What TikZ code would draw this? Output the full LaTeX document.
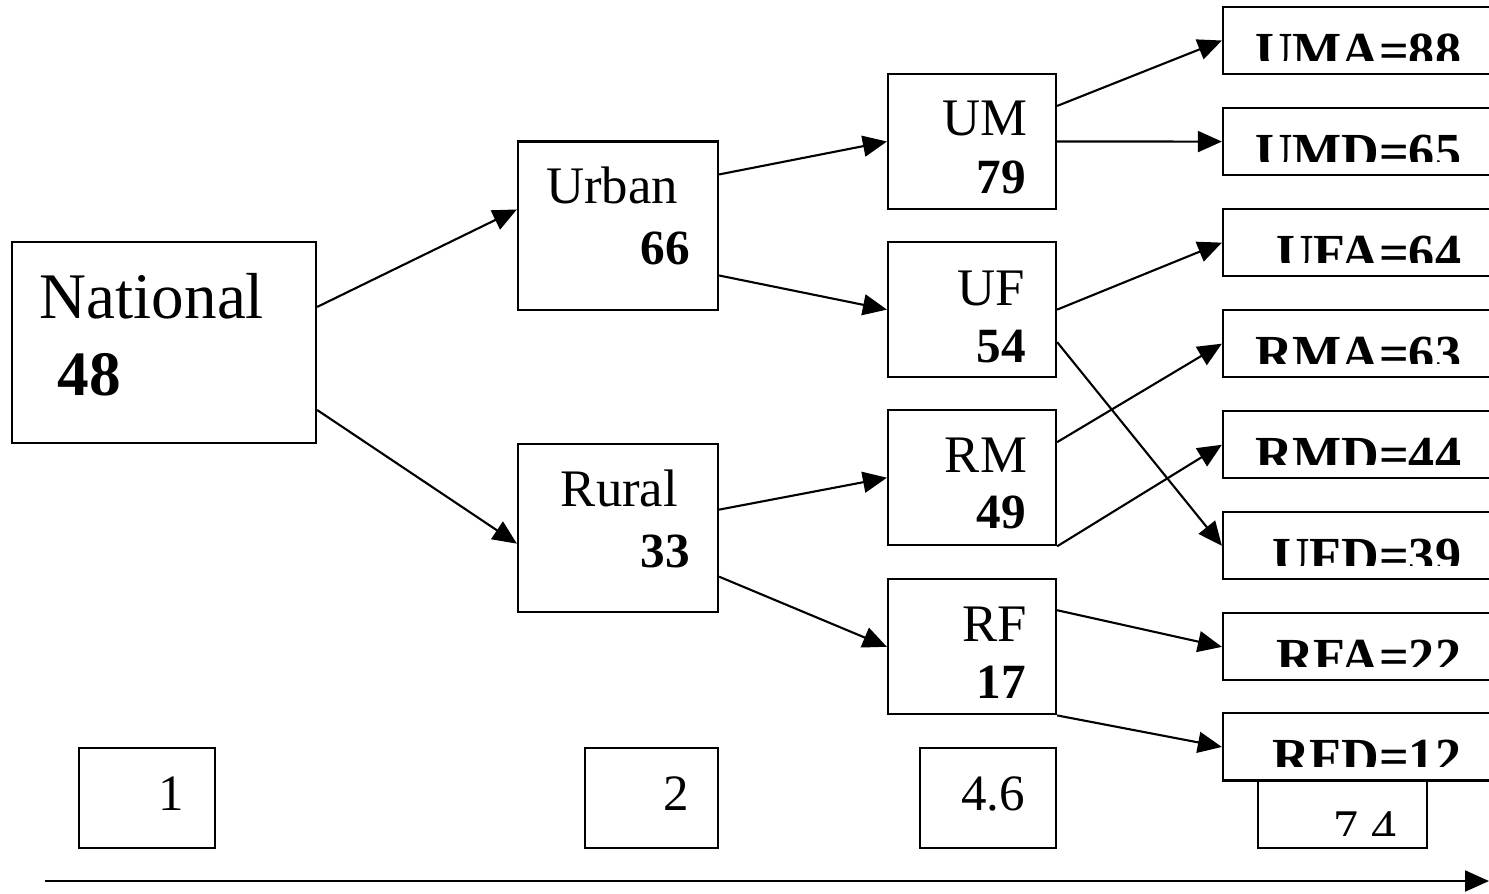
\documentclass[tikz,border=0pt]{standalone}
\usepackage{fontspec}
\setmainfont{Liberation Serif}
\usetikzlibrary{positioning,arrows.meta}
\begin{document}
\begin{tikzpicture}[x=0.01cm, y=-0.01cm, line width=0.6pt]
    \tikzstyle{block} = [ shape=rectangle, draw=black, inner sep=0pt ];
    \tikzstyle{group} = [ block, minimum width=2.0cm, minimum height=1.68cm ];
    \tikzstyle{sub} = [ block, minimum width=1.68cm, minimum height=1.35cm ];
    \tikzstyle{levelbox} = [ block, minimum width=1.36cm, minimum height=1.0cm, text width=0.74cm, text depth=0.08cm, align=right, font=\fontsize{14.5}{17}\selectfont ];
    \tikzstyle{titletext} = [ inner sep=0pt, anchor=base east, font=\fontsize{15}{18}\selectfont ];
    \tikzstyle{valtext} = [ inner sep=0pt, anchor=base east, font=\fontsize{14}{17}\selectfont\bfseries ];
    \tikzstyle{cuttext} = [ draw=none, inner sep=0pt, minimum width=0pt, minimum height=0pt, anchor=base east ];
    \tikzstyle{arr} = [ -{Triangle[length=2.4mm,width=2.1mm]} ];
    \tikzset{leaf/.style 2 args={ block, minimum width=2.9cm, minimum height=0.67cm,
        path picture={ \clip ([yshift=0.14cm]path picture bounding box.south west) rectangle (path picture bounding box.north east);
            \node (n#1Text) [cuttext, font=\fontsize{14.8}{17}\selectfont\bfseries] at ([xshift=2.39cm,yshift=0.06cm]path picture bounding box.south west) {#2}; } } };

    \useasboundingbox (0,0) rectangle (1489,893);
    \clip (0,0) rectangle (1489,893);

    % national level
    \node (nNational) [block, minimum width=3.04cm, minimum height=2.01cm] at (164,342.5) {};
    \node (nNationalName) [titletext, anchor=base west, font=\fontsize{18.5}{22}\selectfont] at ([xshift=0.28cm,yshift=-0.78cm]nNational.north west) {National};
    \node (nNationalValue) [valtext, anchor=base west, font=\fontsize{18}{22}\selectfont\bfseries] at ([xshift=0.46cm,yshift=-1.55cm]nNational.north west) {48};

    % urban / rural
    \node (nUrban) [group] at (618,225.5) {};
    \node (nUrbanName) [titletext] at ([xshift=-0.40cm,yshift=-0.63cm]nUrban.north east) {Urban};
    \node (nUrbanValue) [valtext] at ([xshift=-0.28cm,yshift=-1.24cm]nUrban.north east) {66};
    \node (nRural) [group, below of = nUrban, node distance = 3.02cm] {};
    \node (nRuralName) [titletext] at ([xshift=-0.40cm,yshift=-0.64cm]nRural.north east) {Rural};
    \node (nRuralValue) [valtext] at ([xshift=-0.28cm,yshift=-1.25cm]nRural.north east) {33};

    % sex split
    \node (nUM) [sub] at (972,141.5) {};
    \node (nUF) [sub, below of = nUM, node distance = 1.68cm] {};
    \node (nRM) [sub, below of = nUF, node distance = 1.68cm] {};
    \node (nRF) [sub, below of = nRM, node distance = 1.69cm] {};
    \node (nUMName) [titletext] at ([xshift=-0.29cm,yshift=-0.63cm]nUM.north east) {UM};
    \node (nUMValue) [valtext] at ([xshift=-0.30cm,yshift=-1.21cm]nUM.north east) {79};
    \node (nUFName) [titletext] at ([xshift=-0.31cm,yshift=-0.64cm]nUF.north east) {UF};
    \node (nUFValue) [valtext] at ([xshift=-0.30cm,yshift=-1.21cm]nUF.north east) {54};
    \node (nRMName) [titletext] at ([xshift=-0.29cm,yshift=-0.63cm]nRM.north east) {RM};
    \node (nRMValue) [valtext] at ([xshift=-0.30cm,yshift=-1.19cm]nRM.north east) {49};
    \node (nRFName) [titletext] at ([xshift=-0.29cm,yshift=-0.63cm]nRF.north east) {RF};
    \node (nRFValue) [valtext] at ([xshift=-0.30cm,yshift=-1.20cm]nRF.north east) {17};

    % age split
    \node (nUMA) [leaf={UMA}{UMA=88}] at (1368,40.5) {};
    \node (nUMD) [leaf={UMD}{UMD=65}, below of = nUMA, node distance = 1.01cm] {};
    \node (nUFA) [leaf={UFA}{UFA=64}, below of = nUMD, node distance = 1.01cm] {};
    \node (nRMA) [leaf={RMA}{RMA=63}, below of = nUFA, node distance = 1.01cm] {};
    \node (nRMD) [leaf={RMD}{RMD=44}, below of = nRMA, node distance = 1.01cm] {};
    \node (nUFD) [leaf={UFD}{UFD=39}, below of = nRMD, node distance = 1.01cm] {};
    \node (nRFA) [leaf={RFA}{RFA=22}, below of = nUFD, node distance = 1.01cm] {};
    \node (nRFD) [leaf={RFD}{RFD=12}, below of = nRFA, node distance = 1.00cm] {};

    % bottom row
    \node (nLevelOne) [levelbox] at (147,798) {1};
    \node (nLevelTwo) [levelbox, minimum width=1.33cm] at (651.5,798) {2};
    \node (nLevelThree) [levelbox] at (988,798) {4.6};
    \node (nLevelFour) [block, minimum width=1.69cm, minimum height=0.68cm,
        path picture={ \clip ([yshift=0.13cm]path picture bounding box.south west) rectangle (path picture bounding box.north east);
            \node (nLevelFourText) [cuttext, font=\fontsize{14.2}{17}\selectfont] at ([xshift=1.39cm,yshift=0.04cm]path picture bounding box.south west) {7.4}; }] at (1342.5,814) {};

    \draw [arr] ([yshift=-0.66cm]nNational.north east) -- ([yshift=-0.69cm]nUrban.north west);
    \draw [arr] ([yshift=-1.69cm]nNational.north east) -- ([yshift=-1.01cm]nRural.north west);
    \draw [arr] ([yshift=-0.34cm]nUrban.north east) -- (nUM.west);
    \draw [arr] ([yshift=-1.35cm]nUrban.north east) -- (nUF.west);
    \draw [arr] ([yshift=-0.67cm]nRural.north east) -- (nRM.west);
    \draw [arr] ([yshift=-1.34cm]nRural.north east) -- (nRF.west);
    \draw [arr] ([yshift=-0.33cm]nUM.north east) -- (nUMA.west);
    \draw [arr] (nUM.east) -- (nUMD.west);
    \draw [arr] (nUF.east) -- (nUFA.west);
    \draw [arr] ([yshift=-1.01cm]nUF.north east) -- (nUFD.west);
    \draw [arr] ([yshift=-0.33cm]nRM.north east) -- (nRMA.west);
    \draw [arr] (nRM.south east) -- (nRMD.west);
    \draw [arr] ([yshift=-0.32cm]nRF.north east) -- (nRFA.west);
    \draw [arr] (nRF.south east) -- (nRFD.west);

    \coordinate (cAxisStart) at (45,881);
    \coordinate (cAxisEnd) at (1489,881);
    \draw [arr] (cAxisStart) -- (cAxisEnd);
\end{tikzpicture}
\end{document}
